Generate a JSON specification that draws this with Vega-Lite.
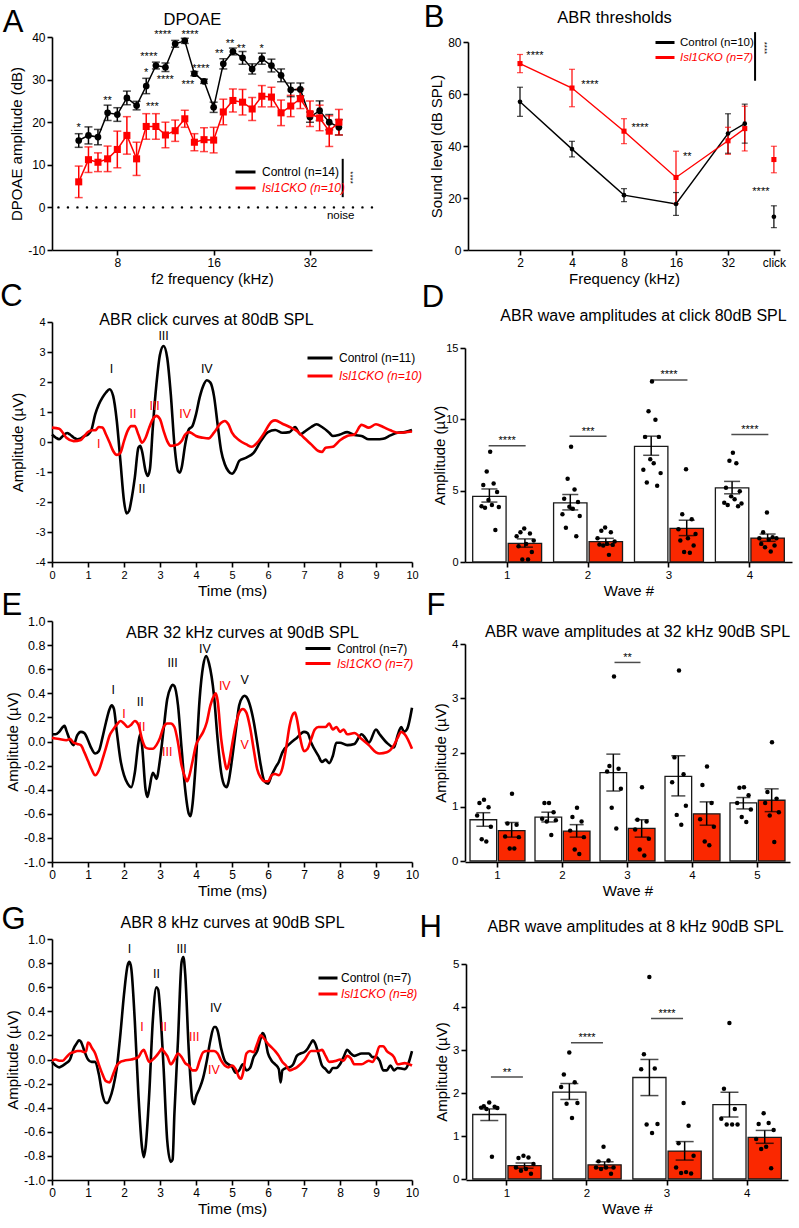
{
"$schema": "https://vega.github.io/schema/vega-lite/v6.json",
"background": "white",
"padding": {"left": 0, "top": 2, "right": 5, "bottom": 5},
"config": {
 "font": "Liberation Sans",
 "view": {"stroke": null},
 "axis": {"grid": false, "domainColor": "#000", "domainWidth": 1.6, "tickColor": "#000", "tickWidth": 1.6, "tickSize": 5, "labelColor": "#000", "titleColor": "#000", "labelFontSize": 12, "titleFontSize": 15, "titleFontWeight": "normal", "labelPadding": 2, "titlePadding": 3, "labelOverlap": false, "labelFlush": false},
 "axisY": {"labelOverlap": false},
 "axisLeft": {"labelOverlap": false},
 "title": {"fontSize": 31, "fontWeight": "normal", "anchor": "start", "frame": "bounds", "color": "#000", "baseline": "alphabetic"},
 "legend": {"title": null, "symbolType": "stroke", "symbolStrokeWidth": 3, "labelFontSize": 12, "padding": 0, "rowPadding": 0, "labelOffset": 5}
},
"datasets": {
 "dpoae": [
  {"f":6.06,"g":"Control","m":15.7,"lo":14.1,"hi":17.3},{"f":6.5,"g":"Control","m":16.9,"lo":14.9,"hi":18.9},{"f":6.96,"g":"Control","m":16.5,"lo":14.7,"hi":18.3},{"f":7.46,"g":"Control","m":22.2,"lo":20.4,"hi":24.0},{"f":8.0,"g":"Control","m":21.8,"lo":20.2,"hi":23.4},{"f":8.57,"g":"Control","m":25.7,"lo":24.1,"hi":27.3},{"f":9.19,"g":"Control","m":23.9,"lo":22.9,"hi":24.9},{"f":9.85,"g":"Control","m":28.5,"lo":26.7,"hi":30.3},{"f":10.56,"g":"Control","m":33.3,"lo":32.5,"hi":34.1},{"f":11.31,"g":"Control","m":32.9,"lo":31.9,"hi":33.9},{"f":12.13,"g":"Control","m":38.4,"lo":37.6,"hi":39.2},{"f":13.0,"g":"Control","m":39.1,"lo":38.5,"hi":39.7},{"f":13.93,"g":"Control","m":31.4,"lo":30.9,"hi":31.9},{"f":14.93,"g":"Control","m":29.6,"lo":29.1,"hi":30.1},{"f":16.0,"g":"Control","m":23.5,"lo":22.3,"hi":24.7},{"f":17.15,"g":"Control","m":33.7,"lo":32.5,"hi":34.9},{"f":18.38,"g":"Control","m":36.6,"lo":35.8,"hi":37.4},{"f":19.7,"g":"Control","m":35.1,"lo":33.6,"hi":36.6},{"f":21.11,"g":"Control","m":32.5,"lo":31.3,"hi":33.7},{"f":22.63,"g":"Control","m":34.9,"lo":33.6,"hi":36.2},{"f":24.25,"g":"Control","m":33.3,"lo":31.8,"hi":34.8},{"f":25.99,"g":"Control","m":31.0,"lo":29.5,"hi":32.5},{"f":27.86,"g":"Control","m":27.6,"lo":26.0,"hi":29.2},{"f":29.86,"g":"Control","m":27.7,"lo":26.2,"hi":29.2},{"f":32.0,"g":"Control","m":21.2,"lo":20.0,"hi":22.4},{"f":34.3,"g":"Control","m":22.7,"lo":20.4,"hi":25.0},{"f":36.76,"g":"Control","m":20.0,"lo":18.2,"hi":21.8},{"f":39.4,"g":"Control","m":18.8,"lo":17.0,"hi":20.6},
  {"f":6.06,"g":"Isl1CKO","m":6.0,"lo":2.3,"hi":9.7},{"f":6.5,"g":"Isl1CKO","m":11.2,"lo":8.2,"hi":14.2},{"f":6.96,"g":"Isl1CKO","m":10.6,"lo":8.4,"hi":12.8},{"f":7.46,"g":"Isl1CKO","m":11.4,"lo":8.4,"hi":14.4},{"f":8.0,"g":"Isl1CKO","m":13.6,"lo":9.3,"hi":17.9},{"f":8.57,"g":"Isl1CKO","m":16.9,"lo":12.5,"hi":21.3},{"f":9.19,"g":"Isl1CKO","m":11.4,"lo":7.5,"hi":15.3},{"f":9.85,"g":"Isl1CKO","m":19.0,"lo":16.0,"hi":22.0},{"f":10.56,"g":"Isl1CKO","m":19.0,"lo":16.0,"hi":22.0},{"f":11.31,"g":"Isl1CKO","m":17.0,"lo":14.0,"hi":20.0},{"f":12.13,"g":"Isl1CKO","m":18.0,"lo":15.5,"hi":20.5},{"f":13.0,"g":"Isl1CKO","m":20.8,"lo":18.8,"hi":22.8},{"f":13.93,"g":"Isl1CKO","m":15.3,"lo":13.3,"hi":17.3},{"f":14.93,"g":"Isl1CKO","m":15.9,"lo":13.1,"hi":18.7},{"f":16.0,"g":"Isl1CKO","m":15.8,"lo":12.8,"hi":18.8},{"f":17.15,"g":"Isl1CKO","m":22.4,"lo":19.4,"hi":25.4},{"f":18.38,"g":"Isl1CKO","m":25.1,"lo":22.4,"hi":27.8},{"f":19.7,"g":"Isl1CKO","m":24.7,"lo":21.7,"hi":27.7},{"f":21.11,"g":"Isl1CKO","m":23.1,"lo":20.4,"hi":25.8},{"f":22.63,"g":"Isl1CKO","m":26.1,"lo":23.6,"hi":28.6},{"f":24.25,"g":"Isl1CKO","m":25.9,"lo":23.6,"hi":28.2},{"f":25.99,"g":"Isl1CKO","m":22.2,"lo":19.2,"hi":25.2},{"f":27.86,"g":"Isl1CKO","m":23.8,"lo":21.3,"hi":26.3},{"f":29.86,"g":"Isl1CKO","m":25.5,"lo":23.2,"hi":27.8},{"f":32.0,"g":"Isl1CKO","m":22.0,"lo":19.0,"hi":25.0},{"f":34.3,"g":"Isl1CKO","m":21.0,"lo":18.0,"hi":24.0},{"f":36.76,"g":"Isl1CKO","m":17.9,"lo":14.3,"hi":21.5},{"f":39.4,"g":"Isl1CKO","m":20.0,"lo":17.0,"hi":23.0}
 ],
 "aStars": [
  {"f":6.06,"y":19.4,"s":"*"},{"f":7.46,"y":25.6,"s":"**"},{"f":9.85,"y":32.2,"s":"*"},{"f":10.04,"y":35.9,"s":"****"},{"f":10.3,"y":24.3,"s":"***"},{"f":11.1,"y":41.2,"s":"****"},{"f":11.3,"y":30.6,"s":"****"},{"f":13.5,"y":41.2,"s":"****"},{"f":14.6,"y":33.3,"s":"****"},{"f":13.3,"y":29.4,"s":"***"},{"f":16.65,"y":36.6,"s":"**"},{"f":18.0,"y":39.0,"s":"**"},{"f":19.5,"y":37.8,"s":"**"},{"f":22.6,"y":38.0,"s":"*"}
 ],
 "abr": [
  {"f":2,"g":"Control","m":57.0,"lo":51.4,"hi":62.6},{"f":4,"g":"Control","m":38.8,"lo":35.8,"hi":41.8},{"f":8,"g":"Control","m":21.1,"lo":18.6,"hi":23.6},{"f":16,"g":"Control","m":17.7,"lo":13.3,"hi":22.1},{"f":32,"g":"Control","m":44.8,"lo":37.2,"hi":52.4},{"f":40,"g":"Control","m":48.6,"lo":41.1,"hi":56.1},{"f":59,"g":"Control","m":12.8,"lo":8.6,"hi":17.0},
  {"f":2,"g":"Isl1CKO","m":71.7,"lo":68.2,"hi":75.2},{"f":4,"g":"Isl1CKO","m":62.3,"lo":55.1,"hi":69.5},{"f":8,"g":"Isl1CKO","m":45.7,"lo":40.9,"hi":50.5},{"f":16,"g":"Isl1CKO","m":27.9,"lo":17.8,"hi":38.0},{"f":32,"g":"Isl1CKO","m":42.0,"lo":36.8,"hi":47.2},{"f":40,"g":"Isl1CKO","m":46.7,"lo":38.1,"hi":55.3},{"f":59,"g":"Isl1CKO","m":34.8,"lo":29.7,"hi":39.9}
 ],
 "bStars": [
  {"f":2.44,"y":75.8,"s":"****"},{"f":5.08,"y":64.7,"s":"****"},{"f":9.9,"y":48.2,"s":"****"},{"f":18.6,"y":37.1,"s":"**"},{"f":49.6,"y":23.3,"s":"****"}
 ],
 "cCurve": [
  {"t":0,"g":"Control","a":0.25},{"t":0.1,"g":"Control","a":0.15},{"t":0.2,"g":"Control","a":0.09},{"t":0.3,"g":"Control","a":0.2},{"t":0.42,"g":"Control","a":0.3},{"t":0.5,"g":"Control","a":0.25},{"t":0.6,"g":"Control","a":0.15},{"t":0.7,"g":"Control","a":0.09},{"t":0.8,"g":"Control","a":0.12},{"t":0.9,"g":"Control","a":0.2},{"t":1.0,"g":"Control","a":0.25},{"t":1.1,"g":"Control","a":0.42},{"t":1.2,"g":"Control","a":0.92},{"t":1.3,"g":"Control","a":1.25},{"t":1.4,"g":"Control","a":1.48},{"t":1.5,"g":"Control","a":1.65},{"t":1.6,"g":"Control","a":1.76},{"t":1.7,"g":"Control","a":1.53},{"t":1.8,"g":"Control","a":0.7},{"t":1.9,"g":"Control","a":-0.63},{"t":2.0,"g":"Control","a":-1.97},{"t":2.07,"g":"Control","a":-2.38},{"t":2.14,"g":"Control","a":-2.3},{"t":2.2,"g":"Control","a":-1.97},{"t":2.3,"g":"Control","a":-1.19},{"t":2.4,"g":"Control","a":-0.19},{"t":2.45,"g":"Control","a":-0.13},{"t":2.5,"g":"Control","a":-0.3},{"t":2.6,"g":"Control","a":-0.97},{"t":2.66,"g":"Control","a":-1.13},{"t":2.72,"g":"Control","a":-0.9},{"t":2.8,"g":"Control","a":0.48},{"t":2.9,"g":"Control","a":1.92},{"t":3.0,"g":"Control","a":2.92},{"t":3.1,"g":"Control","a":3.2},{"t":3.2,"g":"Control","a":2.81},{"t":3.3,"g":"Control","a":1.59},{"t":3.4,"g":"Control","a":-0.08},{"t":3.5,"g":"Control","a":-0.97},{"t":3.55,"g":"Control","a":-1.02},{"t":3.6,"g":"Control","a":-0.86},{"t":3.7,"g":"Control","a":-0.08},{"t":3.8,"g":"Control","a":0.42},{"t":3.9,"g":"Control","a":0.53},{"t":4.0,"g":"Control","a":0.92},{"t":4.1,"g":"Control","a":1.48},{"t":4.2,"g":"Control","a":1.87},{"t":4.3,"g":"Control","a":2.06},{"t":4.4,"g":"Control","a":1.98},{"t":4.5,"g":"Control","a":1.53},{"t":4.6,"g":"Control","a":0.59},{"t":4.7,"g":"Control","a":-0.3},{"t":4.8,"g":"Control","a":-0.74},{"t":4.9,"g":"Control","a":-0.97},{"t":5.0,"g":"Control","a":-1.06},{"t":5.1,"g":"Control","a":-0.91},{"t":5.2,"g":"Control","a":-0.63},{"t":5.4,"g":"Control","a":-0.52},{"t":5.6,"g":"Control","a":-0.36},{"t":5.8,"g":"Control","a":0.03},{"t":6.0,"g":"Control","a":0.33},{"t":6.2,"g":"Control","a":0.4},{"t":6.4,"g":"Control","a":0.31},{"t":6.6,"g":"Control","a":0.33},{"t":6.75,"g":"Control","a":0.5},{"t":6.9,"g":"Control","a":0.25},{"t":7.0,"g":"Control","a":0.33},{"t":7.2,"g":"Control","a":0.5},{"t":7.35,"g":"Control","a":0.59},{"t":7.5,"g":"Control","a":0.5},{"t":7.7,"g":"Control","a":0.31},{"t":7.8,"g":"Control","a":0.2},{"t":8.0,"g":"Control","a":0.25},{"t":8.2,"g":"Control","a":0.33},{"t":8.4,"g":"Control","a":0.23},{"t":8.6,"g":"Control","a":0.2},{"t":8.8,"g":"Control","a":0.09},{"t":9.0,"g":"Control","a":0.09},{"t":9.2,"g":"Control","a":0.11},{"t":9.4,"g":"Control","a":0.22},{"t":9.6,"g":"Control","a":0.31},{"t":9.8,"g":"Control","a":0.33},{"t":10,"g":"Control","a":0.4},
  {"t":0,"g":"Isl1CKO","a":0.48},{"t":0.2,"g":"Isl1CKO","a":0.44},{"t":0.3,"g":"Isl1CKO","a":0.31},{"t":0.4,"g":"Isl1CKO","a":0.14},{"t":0.6,"g":"Isl1CKO","a":0.03},{"t":0.8,"g":"Isl1CKO","a":0.07},{"t":0.9,"g":"Isl1CKO","a":0.2},{"t":1.0,"g":"Isl1CKO","a":0.33},{"t":1.1,"g":"Isl1CKO","a":0.39},{"t":1.2,"g":"Isl1CKO","a":0.39},{"t":1.3,"g":"Isl1CKO","a":0.5},{"t":1.4,"g":"Isl1CKO","a":0.48},{"t":1.5,"g":"Isl1CKO","a":0.25},{"t":1.6,"g":"Isl1CKO","a":-0.02},{"t":1.7,"g":"Isl1CKO","a":-0.3},{"t":1.8,"g":"Isl1CKO","a":-0.43},{"t":1.9,"g":"Isl1CKO","a":-0.36},{"t":2.0,"g":"Isl1CKO","a":0.03},{"t":2.1,"g":"Isl1CKO","a":0.37},{"t":2.2,"g":"Isl1CKO","a":0.53},{"t":2.3,"g":"Isl1CKO","a":0.53},{"t":2.4,"g":"Isl1CKO","a":0.25},{"t":2.5,"g":"Isl1CKO","a":-0.02},{"t":2.6,"g":"Isl1CKO","a":0.14},{"t":2.7,"g":"Isl1CKO","a":0.48},{"t":2.8,"g":"Isl1CKO","a":0.76},{"t":2.9,"g":"Isl1CKO","a":0.87},{"t":3.0,"g":"Isl1CKO","a":0.76},{"t":3.1,"g":"Isl1CKO","a":0.37},{"t":3.2,"g":"Isl1CKO","a":0.03},{"t":3.3,"g":"Isl1CKO","a":-0.13},{"t":3.5,"g":"Isl1CKO","a":-0.08},{"t":3.6,"g":"Isl1CKO","a":0.03},{"t":3.7,"g":"Isl1CKO","a":0.25},{"t":3.8,"g":"Isl1CKO","a":0.33},{"t":3.9,"g":"Isl1CKO","a":0.28},{"t":4.0,"g":"Isl1CKO","a":0.2},{"t":4.2,"g":"Isl1CKO","a":0.14},{"t":4.35,"g":"Isl1CKO","a":0.12},{"t":4.5,"g":"Isl1CKO","a":0.31},{"t":4.7,"g":"Isl1CKO","a":0.64},{"t":4.8,"g":"Isl1CKO","a":0.7},{"t":4.9,"g":"Isl1CKO","a":0.59},{"t":5.0,"g":"Isl1CKO","a":0.31},{"t":5.2,"g":"Isl1CKO","a":0.06},{"t":5.4,"g":"Isl1CKO","a":-0.08},{"t":5.55,"g":"Isl1CKO","a":-0.16},{"t":5.7,"g":"Isl1CKO","a":-0.02},{"t":5.9,"g":"Isl1CKO","a":0.31},{"t":6.1,"g":"Isl1CKO","a":0.68},{"t":6.2,"g":"Isl1CKO","a":0.72},{"t":6.4,"g":"Isl1CKO","a":0.61},{"t":6.6,"g":"Isl1CKO","a":0.5},{"t":6.8,"g":"Isl1CKO","a":0.37},{"t":7.0,"g":"Isl1CKO","a":0.14},{"t":7.2,"g":"Isl1CKO","a":-0.08},{"t":7.4,"g":"Isl1CKO","a":-0.3},{"t":7.5,"g":"Isl1CKO","a":-0.33},{"t":7.6,"g":"Isl1CKO","a":-0.19},{"t":7.8,"g":"Isl1CKO","a":-0.16},{"t":8.0,"g":"Isl1CKO","a":0.06},{"t":8.2,"g":"Isl1CKO","a":0.2},{"t":8.4,"g":"Isl1CKO","a":0.25},{"t":8.6,"g":"Isl1CKO","a":0.57},{"t":8.8,"g":"Isl1CKO","a":0.48},{"t":9.0,"g":"Isl1CKO","a":0.59},{"t":9.2,"g":"Isl1CKO","a":0.5},{"t":9.4,"g":"Isl1CKO","a":0.39},{"t":9.6,"g":"Isl1CKO","a":0.31},{"t":10,"g":"Isl1CKO","a":0.35}
 ],
 "cLab": [
  {"t":1.65,"a":2.42,"g":"Control","l":"I"},{"t":2.5,"a":-1.56,"g":"Control","l":"II"},{"t":3.1,"a":3.55,"g":"Control","l":"III"},{"t":4.3,"a":2.44,"g":"Control","l":"IV"},
  {"t":1.3,"a":-0.06,"g":"Isl1CKO","l":"I"},{"t":2.25,"a":0.92,"g":"Isl1CKO","l":"II"},{"t":2.85,"a":1.2,"g":"Isl1CKO","l":"III"},{"t":3.7,"a":0.92,"g":"Isl1CKO","l":"IV"}
 ],
 "eCurve": [
  {"t":0,"g":"Control","a":0.06},{"t":0.1,"g":"Control","a":0.06},{"t":0.2,"g":"Control","a":0.08},{"t":0.3,"g":"Control","a":0.12},{"t":0.35,"g":"Control","a":0.13},{"t":0.4,"g":"Control","a":0.09},{"t":0.5,"g":"Control","a":0.01},{"t":0.6,"g":"Control","a":-0.03},{"t":0.7,"g":"Control","a":0.05},{"t":0.8,"g":"Control","a":0.08},{"t":0.9,"g":"Control","a":0.07},{"t":1.0,"g":"Control","a":0.01},{"t":1.1,"g":"Control","a":-0.06},{"t":1.2,"g":"Control","a":-0.1},{"t":1.3,"g":"Control","a":-0.08},{"t":1.4,"g":"Control","a":0.03},{"t":1.5,"g":"Control","a":0.16},{"t":1.6,"g":"Control","a":0.27},{"t":1.66,"g":"Control","a":0.3},{"t":1.72,"g":"Control","a":0.27},{"t":1.8,"g":"Control","a":0.08},{"t":1.9,"g":"Control","a":-0.15},{"t":2.0,"g":"Control","a":-0.28},{"t":2.1,"g":"Control","a":-0.35},{"t":2.2,"g":"Control","a":-0.38},{"t":2.3,"g":"Control","a":-0.26},{"t":2.4,"g":"Control","a":-0.01},{"t":2.45,"g":"Control","a":0.06},{"t":2.5,"g":"Control","a":-0.03},{"t":2.6,"g":"Control","a":-0.4},{"t":2.65,"g":"Control","a":-0.46},{"t":2.7,"g":"Control","a":-0.4},{"t":2.8,"g":"Control","a":-0.26},{"t":2.85,"g":"Control","a":-0.28},{"t":2.9,"g":"Control","a":-0.31},{"t":3.0,"g":"Control","a":-0.15},{"t":3.1,"g":"Control","a":0.1},{"t":3.2,"g":"Control","a":0.35},{"t":3.3,"g":"Control","a":0.45},{"t":3.35,"g":"Control","a":0.47},{"t":3.4,"g":"Control","a":0.46},{"t":3.5,"g":"Control","a":0.3},{"t":3.6,"g":"Control","a":-0.06},{"t":3.7,"g":"Control","a":-0.4},{"t":3.8,"g":"Control","a":-0.6},{"t":3.85,"g":"Control","a":-0.62},{"t":3.9,"g":"Control","a":-0.53},{"t":4.0,"g":"Control","a":-0.15},{"t":4.1,"g":"Control","a":0.35},{"t":4.2,"g":"Control","a":0.63},{"t":4.28,"g":"Control","a":0.71},{"t":4.36,"g":"Control","a":0.65},{"t":4.5,"g":"Control","a":0.38},{"t":4.6,"g":"Control","a":0.02},{"t":4.7,"g":"Control","a":-0.26},{"t":4.8,"g":"Control","a":-0.37},{"t":4.85,"g":"Control","a":-0.38},{"t":4.9,"g":"Control","a":-0.34},{"t":5.0,"g":"Control","a":-0.15},{"t":5.1,"g":"Control","a":0.08},{"t":5.2,"g":"Control","a":0.3},{"t":5.3,"g":"Control","a":0.37},{"t":5.35,"g":"Control","a":0.38},{"t":5.4,"g":"Control","a":0.37},{"t":5.5,"g":"Control","a":0.3},{"t":5.6,"g":"Control","a":0.17},{"t":5.7,"g":"Control","a":-0.01},{"t":5.8,"g":"Control","a":-0.2},{"t":5.9,"g":"Control","a":-0.33},{"t":6.0,"g":"Control","a":-0.35},{"t":6.1,"g":"Control","a":-0.28},{"t":6.2,"g":"Control","a":-0.22},{"t":6.3,"g":"Control","a":-0.17},{"t":6.4,"g":"Control","a":-0.09},{"t":6.6,"g":"Control","a":-0.02},{"t":6.8,"g":"Control","a":0.03},{"t":7.0,"g":"Control","a":0.08},{"t":7.1,"g":"Control","a":0.07},{"t":7.2,"g":"Control","a":-0.01},{"t":7.4,"g":"Control","a":-0.12},{"t":7.5,"g":"Control","a":-0.17},{"t":7.6,"g":"Control","a":-0.15},{"t":7.7,"g":"Control","a":-0.18},{"t":7.8,"g":"Control","a":-0.12},{"t":7.9,"g":"Control","a":-0.01},{"t":8.0,"g":"Control","a":-0.01},{"t":8.2,"g":"Control","a":-0.03},{"t":8.4,"g":"Control","a":-0.02},{"t":8.6,"g":"Control","a":0.06},{"t":8.7,"g":"Control","a":0.03},{"t":8.8,"g":"Control","a":-0.01},{"t":9.0,"g":"Control","a":0.1},{"t":9.1,"g":"Control","a":0.06},{"t":9.3,"g":"Control","a":-0.01},{"t":9.5,"g":"Control","a":-0.05},{"t":9.6,"g":"Control","a":0.05},{"t":9.7,"g":"Control","a":0.12},{"t":9.78,"g":"Control","a":0.08},{"t":9.86,"g":"Control","a":0.1},{"t":10,"g":"Control","a":0.28},
  {"t":0,"g":"Isl1CKO","a":0.03},{"t":0.2,"g":"Isl1CKO","a":0.02},{"t":0.4,"g":"Isl1CKO","a":0.01},{"t":0.5,"g":"Isl1CKO","a":0.02},{"t":0.6,"g":"Isl1CKO","a":-0.01},{"t":0.7,"g":"Isl1CKO","a":-0.02},{"t":0.8,"g":"Isl1CKO","a":-0.03},{"t":0.9,"g":"Isl1CKO","a":-0.09},{"t":1.0,"g":"Isl1CKO","a":-0.16},{"t":1.1,"g":"Isl1CKO","a":-0.23},{"t":1.2,"g":"Isl1CKO","a":-0.28},{"t":1.3,"g":"Isl1CKO","a":-0.24},{"t":1.4,"g":"Isl1CKO","a":-0.15},{"t":1.5,"g":"Isl1CKO","a":-0.05},{"t":1.6,"g":"Isl1CKO","a":0.05},{"t":1.7,"g":"Isl1CKO","a":0.1},{"t":1.8,"g":"Isl1CKO","a":0.14},{"t":1.9,"g":"Isl1CKO","a":0.17},{"t":2.0,"g":"Isl1CKO","a":0.15},{"t":2.1,"g":"Isl1CKO","a":0.12},{"t":2.2,"g":"Isl1CKO","a":0.14},{"t":2.3,"g":"Isl1CKO","a":0.17},{"t":2.4,"g":"Isl1CKO","a":0.14},{"t":2.5,"g":"Isl1CKO","a":0.02},{"t":2.6,"g":"Isl1CKO","a":-0.05},{"t":2.7,"g":"Isl1CKO","a":-0.06},{"t":2.8,"g":"Isl1CKO","a":-0.06},{"t":2.9,"g":"Isl1CKO","a":-0.03},{"t":3.0,"g":"Isl1CKO","a":0.03},{"t":3.1,"g":"Isl1CKO","a":0.12},{"t":3.2,"g":"Isl1CKO","a":0.15},{"t":3.3,"g":"Isl1CKO","a":0.15},{"t":3.4,"g":"Isl1CKO","a":0.12},{"t":3.5,"g":"Isl1CKO","a":-0.01},{"t":3.6,"g":"Isl1CKO","a":-0.2},{"t":3.7,"g":"Isl1CKO","a":-0.3},{"t":3.75,"g":"Isl1CKO","a":-0.33},{"t":3.8,"g":"Isl1CKO","a":-0.3},{"t":3.9,"g":"Isl1CKO","a":-0.17},{"t":4.0,"g":"Isl1CKO","a":-0.03},{"t":4.1,"g":"Isl1CKO","a":0.03},{"t":4.2,"g":"Isl1CKO","a":0.08},{"t":4.3,"g":"Isl1CKO","a":0.16},{"t":4.4,"g":"Isl1CKO","a":0.3},{"t":4.5,"g":"Isl1CKO","a":0.38},{"t":4.55,"g":"Isl1CKO","a":0.4},{"t":4.6,"g":"Isl1CKO","a":0.34},{"t":4.7,"g":"Isl1CKO","a":0.02},{"t":4.8,"g":"Isl1CKO","a":-0.17},{"t":4.85,"g":"Isl1CKO","a":-0.23},{"t":4.9,"g":"Isl1CKO","a":-0.2},{"t":5.0,"g":"Isl1CKO","a":-0.03},{"t":5.1,"g":"Isl1CKO","a":0.13},{"t":5.2,"g":"Isl1CKO","a":0.24},{"t":5.3,"g":"Isl1CKO","a":0.27},{"t":5.4,"g":"Isl1CKO","a":0.24},{"t":5.5,"g":"Isl1CKO","a":0.12},{"t":5.6,"g":"Isl1CKO","a":-0.06},{"t":5.7,"g":"Isl1CKO","a":-0.23},{"t":5.8,"g":"Isl1CKO","a":-0.3},{"t":5.9,"g":"Isl1CKO","a":-0.33},{"t":6.0,"g":"Isl1CKO","a":-0.33},{"t":6.1,"g":"Isl1CKO","a":-0.28},{"t":6.2,"g":"Isl1CKO","a":-0.27},{"t":6.3,"g":"Isl1CKO","a":-0.28},{"t":6.4,"g":"Isl1CKO","a":-0.22},{"t":6.5,"g":"Isl1CKO","a":-0.06},{"t":6.6,"g":"Isl1CKO","a":0.13},{"t":6.7,"g":"Isl1CKO","a":0.23},{"t":6.75,"g":"Isl1CKO","a":0.24},{"t":6.8,"g":"Isl1CKO","a":0.19},{"t":6.9,"g":"Isl1CKO","a":0.02},{"t":7.0,"g":"Isl1CKO","a":-0.08},{"t":7.1,"g":"Isl1CKO","a":-0.06},{"t":7.2,"g":"Isl1CKO","a":0.02},{"t":7.3,"g":"Isl1CKO","a":0.1},{"t":7.4,"g":"Isl1CKO","a":0.12},{"t":7.6,"g":"Isl1CKO","a":0.12},{"t":7.7,"g":"Isl1CKO","a":0.15},{"t":7.8,"g":"Isl1CKO","a":0.1},{"t":7.9,"g":"Isl1CKO","a":0.12},{"t":8.0,"g":"Isl1CKO","a":0.08},{"t":8.1,"g":"Isl1CKO","a":0.1},{"t":8.2,"g":"Isl1CKO","a":0.06},{"t":8.4,"g":"Isl1CKO","a":0.07},{"t":8.6,"g":"Isl1CKO","a":0.02},{"t":8.8,"g":"Isl1CKO","a":-0.03},{"t":9.0,"g":"Isl1CKO","a":-0.09},{"t":9.1,"g":"Isl1CKO","a":-0.1},{"t":9.3,"g":"Isl1CKO","a":-0.09},{"t":9.5,"g":"Isl1CKO","a":-0.03},{"t":9.6,"g":"Isl1CKO","a":0.03},{"t":9.7,"g":"Isl1CKO","a":0.08},{"t":9.8,"g":"Isl1CKO","a":0.06},{"t":10,"g":"Isl1CKO","a":-0.06}
 ],
 "eLab": [
  {"t":1.7,"a":0.43,"g":"Control","l":"I"},{"t":2.45,"a":0.33,"g":"Control","l":"II"},{"t":3.35,"a":0.65,"g":"Control","l":"III"},{"t":4.25,"a":0.77,"g":"Control","l":"IV"},{"t":5.35,"a":0.51,"g":"Control","l":"V"},
  {"t":2.0,"a":0.23,"g":"Isl1CKO","l":"I"},{"t":2.5,"a":0.12,"g":"Isl1CKO","l":"II"},{"t":3.2,"a":-0.09,"g":"Isl1CKO","l":"III"},{"t":4.8,"a":0.46,"g":"Isl1CKO","l":"IV"},{"t":5.35,"a":-0.03,"g":"Isl1CKO","l":"V"}
 ],
 "gCurve": [
  {"t":0,"g":"Control","a":-0.02},{"t":0.1,"g":"Control","a":-0.05},{"t":0.2,"g":"Control","a":-0.065},{"t":0.3,"g":"Control","a":-0.05},{"t":0.4,"g":"Control","a":-0.03},{"t":0.5,"g":"Control","a":0.0},{"t":0.6,"g":"Control","a":0.09},{"t":0.7,"g":"Control","a":0.14},{"t":0.75,"g":"Control","a":0.16},{"t":0.8,"g":"Control","a":0.15},{"t":0.9,"g":"Control","a":0.07},{"t":1.0,"g":"Control","a":0.0},{"t":1.1,"g":"Control","a":-0.02},{"t":1.2,"g":"Control","a":-0.02},{"t":1.3,"g":"Control","a":-0.12},{"t":1.4,"g":"Control","a":-0.29},{"t":1.5,"g":"Control","a":-0.36},{"t":1.55,"g":"Control","a":-0.36},{"t":1.6,"g":"Control","a":-0.33},{"t":1.7,"g":"Control","a":-0.23},{"t":1.8,"g":"Control","a":-0.07},{"t":1.9,"g":"Control","a":0.21},{"t":2.0,"g":"Control","a":0.54},{"t":2.1,"g":"Control","a":0.78},{"t":2.15,"g":"Control","a":0.81},{"t":2.2,"g":"Control","a":0.76},{"t":2.3,"g":"Control","a":0.32},{"t":2.4,"g":"Control","a":-0.29},{"t":2.5,"g":"Control","a":-0.73},{"t":2.55,"g":"Control","a":-0.81},{"t":2.6,"g":"Control","a":-0.73},{"t":2.7,"g":"Control","a":-0.29},{"t":2.8,"g":"Control","a":0.32},{"t":2.9,"g":"Control","a":0.6},{"t":2.95,"g":"Control","a":0.58},{"t":3.0,"g":"Control","a":0.43},{"t":3.1,"g":"Control","a":-0.07},{"t":3.2,"g":"Control","a":-0.67},{"t":3.3,"g":"Control","a":-0.85},{"t":3.35,"g":"Control","a":-0.83},{"t":3.4,"g":"Control","a":-0.45},{"t":3.5,"g":"Control","a":0.16},{"t":3.6,"g":"Control","a":0.81},{"t":3.65,"g":"Control","a":0.85},{"t":3.7,"g":"Control","a":0.71},{"t":3.8,"g":"Control","a":0.07},{"t":3.9,"g":"Control","a":-0.34},{"t":3.95,"g":"Control","a":-0.37},{"t":4.0,"g":"Control","a":-0.31},{"t":4.1,"g":"Control","a":-0.24},{"t":4.2,"g":"Control","a":-0.15},{"t":4.3,"g":"Control","a":-0.01},{"t":4.4,"g":"Control","a":0.16},{"t":4.5,"g":"Control","a":0.27},{"t":4.55,"g":"Control","a":0.27},{"t":4.6,"g":"Control","a":0.24},{"t":4.7,"g":"Control","a":0.09},{"t":4.8,"g":"Control","a":-0.01},{"t":4.9,"g":"Control","a":-0.04},{"t":5.0,"g":"Control","a":-0.06},{"t":5.1,"g":"Control","a":-0.11},{"t":5.2,"g":"Control","a":-0.09},{"t":5.3,"g":"Control","a":-0.04},{"t":5.4,"g":"Control","a":-0.09},{"t":5.5,"g":"Control","a":-0.07},{"t":5.6,"g":"Control","a":0.02},{"t":5.7,"g":"Control","a":0.07},{"t":5.8,"g":"Control","a":0.18},{"t":5.85,"g":"Control","a":0.22},{"t":5.9,"g":"Control","a":0.2},{"t":6.0,"g":"Control","a":0.05},{"t":6.1,"g":"Control","a":-0.01},{"t":6.2,"g":"Control","a":-0.04},{"t":6.3,"g":"Control","a":-0.08},{"t":6.35,"g":"Control","a":-0.19},{"t":6.4,"g":"Control","a":-0.09},{"t":6.5,"g":"Control","a":-0.07},{"t":6.6,"g":"Control","a":-0.065},{"t":6.7,"g":"Control","a":-0.04},{"t":6.8,"g":"Control","a":0.03},{"t":6.9,"g":"Control","a":0.05},{"t":7.0,"g":"Control","a":0.06},{"t":7.1,"g":"Control","a":0.09},{"t":7.2,"g":"Control","a":0.14},{"t":7.25,"g":"Control","a":0.16},{"t":7.3,"g":"Control","a":0.14},{"t":7.4,"g":"Control","a":0.05},{"t":7.5,"g":"Control","a":-0.05},{"t":7.6,"g":"Control","a":-0.08},{"t":7.7,"g":"Control","a":-0.11},{"t":7.8,"g":"Control","a":-0.07},{"t":7.9,"g":"Control","a":-0.07},{"t":8.0,"g":"Control","a":-0.04},{"t":8.1,"g":"Control","a":0.02},{"t":8.2,"g":"Control","a":0.08},{"t":8.3,"g":"Control","a":0.05},{"t":8.4,"g":"Control","a":0.03},{"t":8.6,"g":"Control","a":0.05},{"t":8.8,"g":"Control","a":0.05},{"t":8.9,"g":"Control","a":0.02},{"t":9.0,"g":"Control","a":0.02},{"t":9.1,"g":"Control","a":-0.01},{"t":9.2,"g":"Control","a":-0.09},{"t":9.3,"g":"Control","a":-0.09},{"t":9.4,"g":"Control","a":-0.05},{"t":9.5,"g":"Control","a":-0.09},{"t":9.6,"g":"Control","a":-0.07},{"t":9.8,"g":"Control","a":-0.08},{"t":10,"g":"Control","a":0.07},
  {"t":0,"g":"Isl1CKO","a":-0.01},{"t":0.1,"g":"Isl1CKO","a":0.0},{"t":0.2,"g":"Isl1CKO","a":-0.01},{"t":0.3,"g":"Isl1CKO","a":-0.01},{"t":0.4,"g":"Isl1CKO","a":0.02},{"t":0.5,"g":"Isl1CKO","a":0.05},{"t":0.6,"g":"Isl1CKO","a":0.06},{"t":0.7,"g":"Isl1CKO","a":0.07},{"t":0.8,"g":"Isl1CKO","a":0.07},{"t":0.9,"g":"Isl1CKO","a":0.06},{"t":0.95,"g":"Isl1CKO","a":0.07},{"t":1.0,"g":"Isl1CKO","a":0.14},{"t":1.05,"g":"Isl1CKO","a":0.13},{"t":1.1,"g":"Isl1CKO","a":0.1},{"t":1.2,"g":"Isl1CKO","a":0.05},{"t":1.3,"g":"Isl1CKO","a":-0.04},{"t":1.4,"g":"Isl1CKO","a":-0.12},{"t":1.5,"g":"Isl1CKO","a":-0.18},{"t":1.6,"g":"Isl1CKO","a":-0.19},{"t":1.7,"g":"Isl1CKO","a":-0.12},{"t":1.8,"g":"Isl1CKO","a":-0.05},{"t":1.9,"g":"Isl1CKO","a":-0.02},{"t":2.0,"g":"Isl1CKO","a":-0.01},{"t":2.2,"g":"Isl1CKO","a":0.0},{"t":2.4,"g":"Isl1CKO","a":0.02},{"t":2.5,"g":"Isl1CKO","a":0.07},{"t":2.55,"g":"Isl1CKO","a":0.08},{"t":2.6,"g":"Isl1CKO","a":0.05},{"t":2.7,"g":"Isl1CKO","a":-0.02},{"t":2.8,"g":"Isl1CKO","a":0.0},{"t":2.9,"g":"Isl1CKO","a":0.03},{"t":3.0,"g":"Isl1CKO","a":0.07},{"t":3.05,"g":"Isl1CKO","a":0.09},{"t":3.1,"g":"Isl1CKO","a":0.07},{"t":3.2,"g":"Isl1CKO","a":0.03},{"t":3.3,"g":"Isl1CKO","a":-0.04},{"t":3.4,"g":"Isl1CKO","a":0.0},{"t":3.5,"g":"Isl1CKO","a":0.05},{"t":3.6,"g":"Isl1CKO","a":0.02},{"t":3.7,"g":"Isl1CKO","a":-0.03},{"t":3.8,"g":"Isl1CKO","a":-0.05},{"t":3.9,"g":"Isl1CKO","a":-0.09},{"t":4.0,"g":"Isl1CKO","a":-0.09},{"t":4.1,"g":"Isl1CKO","a":-0.01},{"t":4.2,"g":"Isl1CKO","a":0.06},{"t":4.3,"g":"Isl1CKO","a":0.07},{"t":4.4,"g":"Isl1CKO","a":0.07},{"t":4.5,"g":"Isl1CKO","a":0.07},{"t":4.6,"g":"Isl1CKO","a":0.05},{"t":4.7,"g":"Isl1CKO","a":-0.01},{"t":4.8,"g":"Isl1CKO","a":-0.05},{"t":4.9,"g":"Isl1CKO","a":-0.065},{"t":5.0,"g":"Isl1CKO","a":-0.05},{"t":5.1,"g":"Isl1CKO","a":-0.08},{"t":5.2,"g":"Isl1CKO","a":-0.15},{"t":5.25,"g":"Isl1CKO","a":-0.16},{"t":5.3,"g":"Isl1CKO","a":-0.12},{"t":5.4,"g":"Isl1CKO","a":0.05},{"t":5.5,"g":"Isl1CKO","a":0.07},{"t":5.6,"g":"Isl1CKO","a":0.06},{"t":5.7,"g":"Isl1CKO","a":0.13},{"t":5.8,"g":"Isl1CKO","a":0.2},{"t":5.9,"g":"Isl1CKO","a":0.17},{"t":6.0,"g":"Isl1CKO","a":0.13},{"t":6.1,"g":"Isl1CKO","a":0.1},{"t":6.2,"g":"Isl1CKO","a":0.07},{"t":6.3,"g":"Isl1CKO","a":0.03},{"t":6.4,"g":"Isl1CKO","a":-0.02},{"t":6.5,"g":"Isl1CKO","a":-0.05},{"t":6.6,"g":"Isl1CKO","a":-0.09},{"t":6.7,"g":"Isl1CKO","a":-0.08},{"t":6.8,"g":"Isl1CKO","a":-0.065},{"t":6.9,"g":"Isl1CKO","a":-0.04},{"t":7.0,"g":"Isl1CKO","a":-0.01},{"t":7.2,"g":"Isl1CKO","a":0.07},{"t":7.4,"g":"Isl1CKO","a":0.07},{"t":7.5,"g":"Isl1CKO","a":0.08},{"t":7.6,"g":"Isl1CKO","a":0.03},{"t":7.7,"g":"Isl1CKO","a":-0.02},{"t":7.9,"g":"Isl1CKO","a":-0.01},{"t":8.0,"g":"Isl1CKO","a":0.0},{"t":8.1,"g":"Isl1CKO","a":-0.01},{"t":8.2,"g":"Isl1CKO","a":0.03},{"t":8.3,"g":"Isl1CKO","a":0.01},{"t":8.4,"g":"Isl1CKO","a":-0.04},{"t":8.6,"g":"Isl1CKO","a":-0.04},{"t":8.8,"g":"Isl1CKO","a":-0.01},{"t":8.9,"g":"Isl1CKO","a":-0.02},{"t":9.0,"g":"Isl1CKO","a":0.03},{"t":9.1,"g":"Isl1CKO","a":0.11},{"t":9.2,"g":"Isl1CKO","a":0.11},{"t":9.3,"g":"Isl1CKO","a":0.07},{"t":9.5,"g":"Isl1CKO","a":0.02},{"t":9.6,"g":"Isl1CKO","a":-0.04},{"t":9.8,"g":"Isl1CKO","a":-0.03},{"t":10,"g":"Isl1CKO","a":-0.05}
 ],
 "gLab": [
  {"t":2.15,"a":0.92,"g":"Control","l":"I"},{"t":2.9,"a":0.71,"g":"Control","l":"II"},{"t":3.6,"a":0.92,"g":"Control","l":"III"},{"t":4.55,"a":0.43,"g":"Control","l":"IV"},
  {"t":2.5,"a":0.27,"g":"Isl1CKO","l":"I"},{"t":3.1,"a":0.27,"g":"Isl1CKO","l":"II"},{"t":3.95,"a":0.19,"g":"Isl1CKO","l":"III"},{"t":4.5,"a":-0.085,"g":"Isl1CKO","l":"IV"}
 ],
 "dBars": [
  {"w":1,"g":"Control","m":4.6,"lo":4.2,"hi":5.12},{"w":1,"g":"Isl1CKO","m":1.3,"lo":1.04,"hi":1.62},{"w":2,"g":"Control","m":4.15,"lo":3.65,"hi":4.73},{"w":2,"g":"Isl1CKO","m":1.43,"lo":1.22,"hi":1.66},{"w":3,"g":"Control","m":8.1,"lo":7.48,"hi":8.82},{"w":3,"g":"Isl1CKO","m":2.35,"lo":1.85,"hi":2.93},{"w":4,"g":"Control","m":5.2,"lo":4.78,"hi":5.65},{"w":4,"g":"Isl1CKO","m":1.68,"lo":1.45,"hi":1.96}
 ],
 "dDots": [
  {"w":1,"g":"Control","s":6,"v":7.73},{"w":1,"g":"Control","s":4,"v":6.35},{"w":1,"g":"Control","s":8,"v":5.5},{"w":1,"g":"Control","s":2,"v":5.4},{"w":1,"g":"Control","s":10,"v":4.9},{"w":1,"g":"Control","s":5,"v":4.35},{"w":1,"g":"Control","s":7,"v":4.0},{"w":1,"g":"Control","s":1,"v":3.9},{"w":1,"g":"Control","s":11,"v":3.85},{"w":1,"g":"Control","s":3,"v":3.8},{"w":1,"g":"Control","s":9,"v":2.24},
  {"w":1,"g":"Isl1CKO","s":5,"v":2.35},{"w":1,"g":"Isl1CKO","s":3,"v":2.08},{"w":1,"g":"Isl1CKO","s":8,"v":2.0},{"w":1,"g":"Isl1CKO","s":1,"v":1.8},{"w":1,"g":"Isl1CKO","s":10,"v":1.5},{"w":1,"g":"Isl1CKO","s":6,"v":1.27},{"w":1,"g":"Isl1CKO","s":2,"v":1.1},{"w":1,"g":"Isl1CKO","s":9,"v":0.7},{"w":1,"g":"Isl1CKO","s":4,"v":0.18},{"w":1,"g":"Isl1CKO","s":7,"v":0.18},
  {"w":2,"g":"Control","s":6,"v":8.08},{"w":2,"g":"Control","s":4,"v":5.84},{"w":2,"g":"Control","s":8,"v":5.08},{"w":2,"g":"Control","s":2,"v":4.43},{"w":2,"g":"Control","s":10,"v":4.2},{"w":2,"g":"Control","s":5,"v":3.88},{"w":2,"g":"Control","s":7,"v":3.74},{"w":2,"g":"Control","s":1,"v":3.35},{"w":2,"g":"Control","s":11,"v":3.23},{"w":2,"g":"Control","s":3,"v":2.4},{"w":2,"g":"Control","s":9,"v":1.8},
  {"w":2,"g":"Isl1CKO","s":5,"v":2.42},{"w":2,"g":"Isl1CKO","s":3,"v":2.19},{"w":2,"g":"Isl1CKO","s":8,"v":2.08},{"w":2,"g":"Isl1CKO","s":1,"v":1.66},{"w":2,"g":"Isl1CKO","s":10,"v":1.43},{"w":2,"g":"Isl1CKO","s":6,"v":1.27},{"w":2,"g":"Isl1CKO","s":2,"v":1.22},{"w":2,"g":"Isl1CKO","s":9,"v":1.2},{"w":2,"g":"Isl1CKO","s":4,"v":1.15},{"w":2,"g":"Isl1CKO","s":7,"v":0.5},
  {"w":3,"g":"Control","s":6,"v":12.65},{"w":3,"g":"Control","s":4,"v":10.57},{"w":3,"g":"Control","s":8,"v":9.97},{"w":3,"g":"Control","s":2,"v":8.77},{"w":3,"g":"Control","s":10,"v":8.77},{"w":3,"g":"Control","s":5,"v":7.2},{"w":3,"g":"Control","s":7,"v":6.92},{"w":3,"g":"Control","s":1,"v":6.46},{"w":3,"g":"Control","s":11,"v":6.23},{"w":3,"g":"Control","s":3,"v":5.58},{"w":3,"g":"Control","s":9,"v":5.35},
  {"w":3,"g":"Isl1CKO","s":5,"v":6.5},{"w":3,"g":"Isl1CKO","s":3,"v":3.35},{"w":3,"g":"Isl1CKO","s":8,"v":3.0},{"w":3,"g":"Isl1CKO","s":1,"v":2.3},{"w":3,"g":"Isl1CKO","s":10,"v":1.96},{"w":3,"g":"Isl1CKO","s":6,"v":1.66},{"w":3,"g":"Isl1CKO","s":2,"v":1.5},{"w":3,"g":"Isl1CKO","s":9,"v":1.15},{"w":3,"g":"Isl1CKO","s":4,"v":0.7},{"w":3,"g":"Isl1CKO","s":7,"v":0.65},
  {"w":4,"g":"Control","s":6,"v":7.66},{"w":4,"g":"Control","s":4,"v":7.1},{"w":4,"g":"Control","s":8,"v":6.92},{"w":4,"g":"Control","s":2,"v":5.2},{"w":4,"g":"Control","s":10,"v":4.96},{"w":4,"g":"Control","s":5,"v":4.6},{"w":4,"g":"Control","s":7,"v":4.4},{"w":4,"g":"Control","s":1,"v":4.15},{"w":4,"g":"Control","s":11,"v":4.1},{"w":4,"g":"Control","s":3,"v":4.0},{"w":4,"g":"Control","s":9,"v":3.9},
  {"w":4,"g":"Isl1CKO","s":5,"v":3.47},{"w":4,"g":"Isl1CKO","s":3,"v":2.08},{"w":4,"g":"Isl1CKO","s":8,"v":1.73},{"w":4,"g":"Isl1CKO","s":1,"v":1.66},{"w":4,"g":"Isl1CKO","s":10,"v":1.66},{"w":4,"g":"Isl1CKO","s":6,"v":1.57},{"w":4,"g":"Isl1CKO","s":2,"v":1.27},{"w":4,"g":"Isl1CKO","s":9,"v":1.15},{"w":4,"g":"Isl1CKO","s":4,"v":1.04},{"w":4,"g":"Isl1CKO","s":7,"v":0.74}
 ],
 "dStars": [{"w":1,"y":8.15,"s":"****"},{"w":2,"y":8.82,"s":"***"},{"w":3,"y":12.76,"s":"****"},{"w":4,"y":8.93,"s":"****"}],
 "fBars": [
  {"w":1,"g":"Control","m":0.76,"lo":0.64,"hi":0.89},{"w":1,"g":"Isl1CKO","m":0.56,"lo":0.44,"hi":0.71},{"w":2,"g":"Control","m":0.81,"lo":0.72,"hi":0.9},{"w":2,"g":"Isl1CKO","m":0.55,"lo":0.44,"hi":0.67},{"w":3,"g":"Control","m":1.63,"lo":1.29,"hi":1.97},{"w":3,"g":"Isl1CKO","m":0.6,"lo":0.44,"hi":0.76},{"w":4,"g":"Control","m":1.56,"lo":1.2,"hi":1.94},{"w":4,"g":"Isl1CKO","m":0.87,"lo":0.66,"hi":1.09},{"w":5,"g":"Control","m":1.07,"lo":0.96,"hi":1.17},{"w":5,"g":"Isl1CKO","m":1.12,"lo":0.91,"hi":1.33}
 ],
 "fDots": [
  {"w":1,"g":"Control","s":4,"v":1.13},{"w":1,"g":"Control","s":2,"v":1.07},{"w":1,"g":"Control","s":6,"v":0.99},{"w":1,"g":"Control","s":1,"v":0.84},{"w":1,"g":"Control","s":7,"v":0.63},{"w":1,"g":"Control","s":3,"v":0.4},{"w":1,"g":"Control","s":5,"v":0.36},
  {"w":1,"g":"Isl1CKO","s":4,"v":1.24},{"w":1,"g":"Isl1CKO","s":2,"v":0.69},{"w":1,"g":"Isl1CKO","s":6,"v":0.67},{"w":1,"g":"Isl1CKO","s":1,"v":0.45},{"w":1,"g":"Isl1CKO","s":7,"v":0.44},{"w":1,"g":"Isl1CKO","s":3,"v":0.23},{"w":1,"g":"Isl1CKO","s":5,"v":0.23},
  {"w":2,"g":"Control","s":4,"v":1.07},{"w":2,"g":"Control","s":2,"v":1.07},{"w":2,"g":"Control","s":6,"v":0.9},{"w":2,"g":"Control","s":1,"v":0.78},{"w":2,"g":"Control","s":7,"v":0.75},{"w":2,"g":"Control","s":3,"v":0.73},{"w":2,"g":"Control","s":5,"v":0.48},
  {"w":2,"g":"Isl1CKO","s":4,"v":0.98},{"w":2,"g":"Isl1CKO","s":2,"v":0.81},{"w":2,"g":"Isl1CKO","s":6,"v":0.73},{"w":2,"g":"Isl1CKO","s":1,"v":0.56},{"w":2,"g":"Isl1CKO","s":7,"v":0.44},{"w":2,"g":"Isl1CKO","s":3,"v":0.21},{"w":2,"g":"Isl1CKO","s":5,"v":0.13},
  {"w":3,"g":"Control","s":4,"v":3.4},{"w":3,"g":"Control","s":2,"v":1.75},{"w":3,"g":"Control","s":6,"v":1.7},{"w":3,"g":"Control","s":1,"v":1.65},{"w":3,"g":"Control","s":7,"v":1.33},{"w":3,"g":"Control","s":3,"v":0.98},{"w":3,"g":"Control","s":5,"v":0.6},
  {"w":3,"g":"Isl1CKO","s":4,"v":1.36},{"w":3,"g":"Isl1CKO","s":2,"v":0.76},{"w":3,"g":"Isl1CKO","s":6,"v":0.73},{"w":3,"g":"Isl1CKO","s":1,"v":0.58},{"w":3,"g":"Isl1CKO","s":7,"v":0.41},{"w":3,"g":"Isl1CKO","s":3,"v":0.21},{"w":3,"g":"Isl1CKO","s":5,"v":0.1},
  {"w":4,"g":"Control","s":4,"v":3.51},{"w":4,"g":"Control","s":2,"v":1.91},{"w":4,"g":"Control","s":6,"v":1.6},{"w":4,"g":"Control","s":1,"v":1.45},{"w":4,"g":"Control","s":7,"v":1.02},{"w":4,"g":"Control","s":3,"v":0.85},{"w":4,"g":"Control","s":5,"v":0.67},
  {"w":4,"g":"Isl1CKO","s":4,"v":1.74},{"w":4,"g":"Isl1CKO","s":2,"v":1.4},{"w":4,"g":"Isl1CKO","s":6,"v":1.07},{"w":4,"g":"Isl1CKO","s":1,"v":0.77},{"w":4,"g":"Isl1CKO","s":7,"v":0.63},{"w":4,"g":"Isl1CKO","s":3,"v":0.36},{"w":4,"g":"Isl1CKO","s":5,"v":0.29},
  {"w":5,"g":"Control","s":4,"v":1.36},{"w":5,"g":"Control","s":2,"v":1.35},{"w":5,"g":"Control","s":6,"v":1.21},{"w":5,"g":"Control","s":1,"v":1.07},{"w":5,"g":"Control","s":7,"v":0.95},{"w":5,"g":"Control","s":3,"v":0.81},{"w":5,"g":"Control","s":5,"v":0.72},
  {"w":5,"g":"Isl1CKO","s":4,"v":2.19},{"w":5,"g":"Isl1CKO","s":2,"v":1.27},{"w":5,"g":"Isl1CKO","s":6,"v":1.15},{"w":5,"g":"Isl1CKO","s":1,"v":1.07},{"w":5,"g":"Isl1CKO","s":7,"v":0.9},{"w":5,"g":"Isl1CKO","s":3,"v":0.84},{"w":5,"g":"Isl1CKO","s":5,"v":0.35}
 ],
 "fStars": [{"w":3,"y":3.66,"s":"**"}],
 "hBars": [
  {"w":1,"g":"Control","m":1.5,"lo":1.36,"hi":1.63},{"w":1,"g":"Isl1CKO","m":0.31,"lo":0.25,"hi":0.37},{"w":2,"g":"Control","m":2.02,"lo":1.85,"hi":2.22},{"w":2,"g":"Isl1CKO","m":0.33,"lo":0.26,"hi":0.4},{"w":3,"g":"Control","m":2.36,"lo":1.94,"hi":2.78},{"w":3,"g":"Isl1CKO","m":0.65,"lo":0.44,"hi":0.87},{"w":4,"g":"Control","m":1.73,"lo":1.44,"hi":2.02},{"w":4,"g":"Isl1CKO","m":0.97,"lo":0.83,"hi":1.13}
 ],
 "hDots": [
  {"w":1,"g":"Control","s":4,"v":1.78},{"w":1,"g":"Control","s":2,"v":1.69},{"w":1,"g":"Control","s":6,"v":1.68},{"w":1,"g":"Control","s":1,"v":1.66},{"w":1,"g":"Control","s":7,"v":1.65},{"w":1,"g":"Control","s":3,"v":1.63},{"w":1,"g":"Control","s":5,"v":0.52},
  {"w":1,"g":"Isl1CKO","s":4,"v":0.54},{"w":1,"g":"Isl1CKO","s":6,"v":0.5},{"w":1,"g":"Isl1CKO","s":2,"v":0.49},{"w":1,"g":"Isl1CKO","s":8,"v":0.35},{"w":1,"g":"Isl1CKO","s":1,"v":0.27},{"w":1,"g":"Isl1CKO","s":5,"v":0.23},{"w":1,"g":"Isl1CKO","s":3,"v":0.19},{"w":1,"g":"Isl1CKO","s":7,"v":0.12},
  {"w":2,"g":"Control","s":4,"v":2.94},{"w":2,"g":"Control","s":2,"v":2.43},{"w":2,"g":"Control","s":6,"v":2.25},{"w":2,"g":"Control","s":1,"v":2.14},{"w":2,"g":"Control","s":7,"v":1.77},{"w":2,"g":"Control","s":3,"v":1.75},{"w":2,"g":"Control","s":5,"v":1.42},
  {"w":2,"g":"Isl1CKO","s":4,"v":0.75},{"w":2,"g":"Isl1CKO","s":6,"v":0.43},{"w":2,"g":"Isl1CKO","s":2,"v":0.41},{"w":2,"g":"Isl1CKO","s":8,"v":0.27},{"w":2,"g":"Isl1CKO","s":1,"v":0.27},{"w":2,"g":"Isl1CKO","s":5,"v":0.27},{"w":2,"g":"Isl1CKO","s":3,"v":0.23},{"w":2,"g":"Isl1CKO","s":7,"v":0.12},
  {"w":3,"g":"Control","s":4,"v":4.7},{"w":3,"g":"Control","s":2,"v":2.9},{"w":3,"g":"Control","s":6,"v":2.57},{"w":3,"g":"Control","s":1,"v":2.55},{"w":3,"g":"Control","s":7,"v":1.28},{"w":3,"g":"Control","s":3,"v":1.27},{"w":3,"g":"Control","s":5,"v":1.07},
  {"w":3,"g":"Isl1CKO","s":4,"v":1.77},{"w":3,"g":"Isl1CKO","s":6,"v":1.24},{"w":3,"g":"Isl1CKO","s":2,"v":0.83},{"w":3,"g":"Isl1CKO","s":8,"v":0.54},{"w":3,"g":"Isl1CKO","s":1,"v":0.27},{"w":3,"g":"Isl1CKO","s":5,"v":0.16},{"w":3,"g":"Isl1CKO","s":3,"v":0.14},{"w":3,"g":"Isl1CKO","s":7,"v":0.13},
  {"w":4,"g":"Control","s":4,"v":3.63},{"w":4,"g":"Control","s":2,"v":2.1},{"w":4,"g":"Control","s":6,"v":1.63},{"w":4,"g":"Control","s":1,"v":1.4},{"w":4,"g":"Control","s":7,"v":1.27},{"w":4,"g":"Control","s":3,"v":1.27},{"w":4,"g":"Control","s":5,"v":1.27},
  {"w":4,"g":"Isl1CKO","s":4,"v":1.53},{"w":4,"g":"Isl1CKO","s":6,"v":1.3},{"w":4,"g":"Isl1CKO","s":2,"v":1.28},{"w":4,"g":"Isl1CKO","s":8,"v":1.14},{"w":4,"g":"Isl1CKO","s":1,"v":0.93},{"w":4,"g":"Isl1CKO","s":5,"v":0.75},{"w":4,"g":"Isl1CKO","s":3,"v":0.7},{"w":4,"g":"Isl1CKO","s":7,"v":0.25}
 ],
 "hStars": [{"w":1,"y":2.37,"s":"**"},{"w":2,"y":3.17,"s":"****"},{"w":3,"y":3.73,"s":"****"}]
},
"spacing": -5,
"resolve": {"scale": {"color": "independent", "shape": "independent"}, "legend": {"color": "independent", "shape": "independent"}},
"vconcat": [
 {"hconcat": [
  {"title": {"text": "A", "offset": -28, "dx": -7},
   "width": 320, "height": 213,
   "layer": [
    {"data": {"name": "dpoae"}, "mark": {"type": "line", "strokeWidth": 1.5},
     "encoding": {
      "x": {"field": "f", "type": "quantitative", "scale": {"type": "log", "domain": [5, 50], "nice": false}, "axis": {"orient": "bottom", "values": [8, 16, 32], "title": "f2 frequency (kHz)"}},
      "y": {"field": "m", "type": "quantitative", "scale": {"domain": [-10, 40], "nice": false, "zero": false}, "axis": {"values": [-10, 0, 10, 20, 30, 40], "title": "DPOAE amplitude (dB)", "labelOverlap": false, "labelExpr": "replace(datum.label, '\u2212', '-')"}},
      "color": {"field": "g", "type": "nominal", "scale": {"domain": ["Control", "Isl1CKO"], "range": ["#000000", "#ff0000"]},
       "legend": {"orient": "none", "legendX": 182, "legendY": 127, "symbolSize": 400, "clipHeight": 16, "labelExpr": "datum.label == 'Control' ? 'Control (n=14)' : 'Isl1CKO (n=10)'", "labelColor": {"expr": "datum.value == 'Control' ? '#000000' : '#ff0000'"}, "labelFontStyle": {"expr": "datum.value == 'Control' ? 'normal' : 'italic'"}}}}},
    {"data": {"values": [{"level": 0}]}, "mark": {"type": "rule", "strokeDash": [0.1, 9.4], "strokeWidth": 2.4, "strokeCap": "round", "color": "#000"}, "encoding": {"y": {"field": "level", "type": "quantitative"}}},
    {"data": {"name": "dpoae"}, "mark": {"type": "rule", "strokeWidth": 1.5}, "encoding": {"x": {"field": "f", "type": "quantitative", "axis": null}, "y": {"field": "lo", "type": "quantitative"}, "y2": {"field": "hi"}, "color": {"field": "g", "type": "nominal", "legend": null}}},
    {"data": {"name": "dpoae"}, "mark": {"type": "tick", "orient": "horizontal", "size": 8, "thickness": 1.5}, "encoding": {"x": {"field": "f", "type": "quantitative", "axis": null}, "y": {"field": "lo", "type": "quantitative"}, "color": {"field": "g", "type": "nominal", "legend": null}}},
    {"data": {"name": "dpoae"}, "mark": {"type": "tick", "orient": "horizontal", "size": 8, "thickness": 1.5}, "encoding": {"x": {"field": "f", "type": "quantitative", "axis": null}, "y": {"field": "hi", "type": "quantitative"}, "color": {"field": "g", "type": "nominal", "legend": null}}},
    {"data": {"name": "dpoae"}, "transform": [{"filter": "datum.g == 'Control'"}], "mark": {"type": "point", "shape": "circle", "filled": true, "opacity": 1, "size": 45, "color": "#000000"},
     "encoding": {"x": {"field": "f", "type": "quantitative", "axis": null}, "y": {"field": "m", "type": "quantitative"}}},
    {"data": {"name": "dpoae"}, "transform": [{"filter": "datum.g == 'Isl1CKO'"}], "mark": {"type": "point", "shape": "square", "filled": true, "opacity": 1, "size": 50, "color": "#ff0000"},
     "encoding": {"x": {"field": "f", "type": "quantitative", "axis": null}, "y": {"field": "m", "type": "quantitative"}}},
    {"data": {"name": "aStars"}, "mark": {"type": "text", "fontSize": 11, "dy": 3, "color": "#000"},
     "encoding": {"x": {"field": "f", "type": "quantitative", "axis": {"orient": "top", "title": "DPOAE", "labels": false, "ticks": false, "domain": false, "titleFontSize": 16.5, "titlePadding": 10, "titleX": 140}}, "y": {"field": "y", "type": "quantitative"}, "text": {"field": "s"}}},
    {"data": {"values": [{"f": 40.5, "y1": 2.4, "y2": 11.4}]}, "mark": {"type": "rule", "strokeWidth": 2, "color": "#000"}, "encoding": {"x": {"field": "f", "type": "quantitative", "axis": null}, "y": {"field": "y1", "type": "quantitative"}, "y2": {"field": "y2"}}},
    {"data": {"values": [{"f": 42.7, "y": 7.0, "s": "****"}]}, "mark": {"type": "text", "angle": 90, "fontSize": 8, "color": "#000"}, "encoding": {"x": {"field": "f", "type": "quantitative", "axis": null}, "y": {"field": "y", "type": "quantitative"}, "text": {"field": "s"}}},
    {"data": {"values": [{"f": 39.9, "y": -2.0, "s": "noise"}]}, "mark": {"type": "text", "fontSize": 11.5, "color": "#000"}, "encoding": {"x": {"field": "f", "type": "quantitative", "axis": null}, "y": {"field": "y", "type": "quantitative"}, "text": {"field": "s"}}}
   ],
   "resolve": {"axis": {"x": "independent"}}
  },
  {"title": {"text": "B", "offset": -25, "dx": -6},
   "width": 312, "height": 213,
   "layer": [
    {"data": {"name": "abr"}, "transform": [{"filter": "datum.f < 50"}], "mark": {"type": "line", "strokeWidth": 1.4},
     "encoding": {
      "x": {"field": "f", "type": "quantitative", "scale": {"type": "log", "domain": [1, 64], "nice": false}, "axis": {"orient": "bottom", "values": [2, 4, 8, 16, 32, 59], "labelExpr": "datum.value > 50 ? 'click' : datum.label", "title": "Frequency (kHz)"}},
      "y": {"field": "m", "type": "quantitative", "scale": {"domain": [0, 80], "nice": false, "range": [213, 5]}, "axis": {"values": [0, 20, 40, 60, 80], "title": "Sound level (dB SPL)", "labelOverlap": false}},
      "color": {"field": "g", "type": "nominal", "scale": {"domain": ["Control", "Isl1CKO"], "range": ["#000000", "#ff0000"]},
       "legend": {"orient": "none", "legendX": 186, "legendY": -2, "symbolSize": 361, "clipHeight": 15, "labelFontSize": 11.5, "labelOffset": 4, "labelExpr": "datum.label == 'Control' ? 'Control (n=10)' : 'Isl1CKO (n=7)'", "labelColor": {"expr": "datum.value == 'Control' ? '#000000' : '#ff0000'"}, "labelFontStyle": {"expr": "datum.value == 'Control' ? 'normal' : 'italic'"}}}}},
    {"data": {"name": "abr"}, "mark": {"type": "rule", "strokeWidth": 1.2}, "encoding": {"x": {"field": "f", "type": "quantitative", "axis": null}, "y": {"field": "lo", "type": "quantitative"}, "y2": {"field": "hi"}, "color": {"field": "g", "type": "nominal", "legend": null}}},
    {"data": {"name": "abr"}, "mark": {"type": "tick", "orient": "horizontal", "size": 6, "thickness": 1.2}, "encoding": {"x": {"field": "f", "type": "quantitative", "axis": null}, "y": {"field": "lo", "type": "quantitative"}, "color": {"field": "g", "type": "nominal", "legend": null}}},
    {"data": {"name": "abr"}, "mark": {"type": "tick", "orient": "horizontal", "size": 6, "thickness": 1.2}, "encoding": {"x": {"field": "f", "type": "quantitative", "axis": null}, "y": {"field": "hi", "type": "quantitative"}, "color": {"field": "g", "type": "nominal", "legend": null}}},
    {"data": {"name": "abr"}, "transform": [{"filter": "datum.g == 'Control'"}], "mark": {"type": "point", "shape": "circle", "filled": true, "opacity": 1, "size": 22, "color": "#000000"},
     "encoding": {"x": {"field": "f", "type": "quantitative", "axis": null}, "y": {"field": "m", "type": "quantitative"}}},
    {"data": {"name": "abr"}, "transform": [{"filter": "datum.g == 'Isl1CKO'"}], "mark": {"type": "point", "shape": "square", "filled": true, "opacity": 1, "size": 26, "color": "#ff0000"},
     "encoding": {"x": {"field": "f", "type": "quantitative", "axis": null}, "y": {"field": "m", "type": "quantitative"}}},
    {"data": {"name": "bStars"}, "mark": {"type": "text", "fontSize": 11, "dy": 3, "color": "#000"},
     "encoding": {"x": {"field": "f", "type": "quantitative", "axis": {"orient": "top", "title": "ABR thresholds", "labels": false, "ticks": false, "domain": false, "titleFontSize": 16.5, "titlePadding": 12, "titleX": 146}}, "y": {"field": "y", "type": "quantitative"}, "text": {"field": "s"}}},
    {"data": {"values": [{"f": 45.9, "y1": 65.1, "y2": 83.8}]}, "mark": {"type": "rule", "strokeWidth": 2, "color": "#000"}, "encoding": {"x": {"field": "f", "type": "quantitative", "axis": null}, "y": {"field": "y1", "type": "quantitative"}, "y2": {"field": "y2"}}},
    {"data": {"values": [{"f": 51.7, "y": 77.7, "s": "****"}]}, "mark": {"type": "text", "angle": 90, "fontSize": 8, "color": "#000"}, "encoding": {"x": {"field": "f", "type": "quantitative", "axis": null}, "y": {"field": "y", "type": "quantitative"}, "text": {"field": "s"}}}
   ],
   "resolve": {"axis": {"x": "independent"}}
  }
 ], "spacing": 49, "resolve": {"scale": {"color": "independent", "shape": "independent"}, "legend": {"color": "independent", "shape": "independent"}}},
 {"spacing": -9, "resolve": {"scale": {"color": "independent", "shape": "independent"}, "legend": {"color": "independent", "shape": "independent"}},
  "vconcat": [
 {"hconcat": [
  {"title": {"text": "C", "offset": -2, "dx": -10},
   "width": 360, "height": 240,
   "layer": [
    {"data": {"name": "cCurve"}, "mark": {"type": "line", "strokeWidth": 2.6, "interpolate": "monotone"},
     "encoding": {
      "x": {"field": "t", "type": "quantitative", "scale": {"domain": [0, 10], "nice": false}, "axis": {"orient": "bottom", "values": [0,1,2,3,4,5,6,7,8,9,10], "title": "Time (ms)", "labelFontSize": 11, "titleFontSize": 15.5}},
      "y": {"field": "a", "type": "quantitative", "scale": {"domain": [-4, 4], "nice": false}, "axis": {"values": [-4,-3,-2,-1,0,1,2,3,4], "title": "Amplitude (µV)", "labelFontSize": 11, "titlePadding": 10, "labelOverlap": false, "labelSeparation": 0, "labelExpr": "replace(datum.label, '\u2212', '-')"}},
      "color": {"field": "g", "type": "nominal", "scale": {"domain": ["Control", "Isl1CKO"], "range": ["#000000", "#ff0000"]},
       "legend": {"orient": "none", "legendX": 254, "legendY": 27, "symbolSize": 625, "clipHeight": 18, "labelExpr": "datum.label == 'Control' ? 'Control (n=11)' : 'Isl1CKO (n=10)'", "labelColor": {"expr": "datum.value == 'Control' ? '#000000' : '#ff0000'"}, "labelFontStyle": {"expr": "datum.value == 'Control' ? 'normal' : 'italic'"}}}}},
    {"data": {"name": "cLab"}, "mark": {"type": "text", "fontSize": 12.5},
     "encoding": {"x": {"field": "t", "type": "quantitative", "axis": {"orient": "top", "title": "ABR click curves at 80dB SPL", "labels": false, "ticks": false, "domain": false, "titleFontSize": 16, "titlePadding": -5, "titleX": 154}}, "y": {"field": "a", "type": "quantitative", "axis": {"values": [-4,-3,-2,-1,0,1,2,3,4], "title": "Amplitude (µV)", "labelFontSize": 11, "titlePadding": 10, "labelOverlap": false, "labelSeparation": 0, "labelExpr": "replace(datum.label, '\u2212', '-')"}}, "text": {"field": "l"}, "color": {"field": "g", "type": "nominal", "legend": null}}}
   ],
   "resolve": {"axis": {"x": "independent"}}
  },
  {"title": {"text": "D", "offset": -7, "dx": -11},
   "width": 327, "height": 240,
   "layer": [
    {"data": {"name": "dBars"}, "mark": {"type": "bar", "stroke": "#1a1a1a", "strokeWidth": 1.3},
     "encoding": {
      "x": {"field": "w", "type": "ordinal", "scale": {"paddingInner": 0.148, "paddingOuter": 0.095}, "axis": {"orient": "bottom", "title": "Wave #", "labelAngle": 0, "labelFontSize": 11.5}},
      "xOffset": {"field": "g", "scale": {"paddingInner": 0.06}},
      "y": {"field": "m", "type": "quantitative", "scale": {"domain": [0, 15], "nice": false, "range": [240, 26]}, "axis": {"values": [0, 5, 10, 15], "title": "Amplitude (µV)", "labelFontSize": 11, "titlePadding": -2, "labelOverlap": false}},
      "color": {"field": "g", "type": "nominal", "scale": {"domain": ["Control", "Isl1CKO"], "range": ["#ffffff", "#fa2800"]}, "legend": null}}},
    {"data": {"name": "dBars"}, "mark": {"type": "rule", "strokeWidth": 1.5, "color": "#000"}, "encoding": {"x": {"field": "w", "type": "ordinal", "axis": null}, "xOffset": {"field": "g", "scale": {"paddingInner": 0.06}}, "y": {"field": "lo", "type": "quantitative"}, "y2": {"field": "hi"}}},
    {"data": {"name": "dBars"}, "mark": {"type": "tick", "orient": "horizontal", "size": 16, "thickness": 1.5, "color": "#000"}, "encoding": {"x": {"field": "w", "type": "ordinal", "axis": null}, "xOffset": {"field": "g", "scale": {"paddingInner": 0.06}}, "y": {"field": "lo", "type": "quantitative"}}},
    {"data": {"name": "dBars"}, "mark": {"type": "tick", "orient": "horizontal", "size": 16, "thickness": 1.5, "color": "#000"}, "encoding": {"x": {"field": "w", "type": "ordinal", "axis": null}, "xOffset": {"field": "g", "scale": {"paddingInner": 0.06}}, "y": {"field": "hi", "type": "quantitative"}}},
    {"data": {"name": "dDots"}, "transform": [{"filter": "datum.g == 'Control'"}], "mark": {"type": "circle", "size": 20, "opacity": 1, "color": "#000"}, "encoding": {"x": {"field": "w", "type": "ordinal", "axis": null}, "xOffset": {"field": "s", "type": "ordinal", "scale": {"range": [8, 27]}}, "y": {"field": "v", "type": "quantitative"}}},
    {"data": {"name": "dDots"}, "transform": [{"filter": "datum.g == 'Isl1CKO'"}], "mark": {"type": "circle", "size": 20, "opacity": 1, "color": "#000"}, "encoding": {"x": {"field": "w", "type": "ordinal", "axis": null}, "xOffset": {"field": "s", "type": "ordinal", "scale": {"range": [43, 62]}}, "y": {"field": "v", "type": "quantitative"}}},
    {"data": {"name": "dStars"}, "mark": {"type": "tick", "orient": "horizontal", "size": 37, "thickness": 1.5, "color": "#000"}, "encoding": {"x": {"field": "w", "type": "ordinal", "axis": null}, "y": {"field": "y", "type": "quantitative"}}},
    {"data": {"name": "dStars"}, "mark": {"type": "text", "fontSize": 11, "baseline": "alphabetic", "dy": -1.5, "color": "#000"},
     "encoding": {"x": {"field": "w", "type": "ordinal", "axis": {"orient": "top", "title": "ABR wave amplitudes at click 80dB SPL", "labels": false, "ticks": false, "domain": false, "titleFontSize": 16, "titlePadding": -1, "titleX": 178}}, "y": {"field": "y", "type": "quantitative"}, "text": {"field": "s"}}}
   ],
   "resolve": {"scale": {"xOffset": "independent"}, "axis": {"x": "independent"}}
  }
 ], "spacing": -2, "resolve": {"scale": {"color": "independent", "shape": "independent"}, "legend": {"color": "independent", "shape": "independent"}}},
 {"spacing": 5, "resolve": {"scale": {"color": "independent", "shape": "independent"}, "legend": {"color": "independent", "shape": "independent"}},
  "vconcat": [
 {"hconcat": [
  {"title": {"text": "E", "offset": -7, "dx": -4},
   "width": 360, "height": 241,
   "layer": [
    {"data": {"name": "eCurve"}, "mark": {"type": "line", "strokeWidth": 2.6, "interpolate": "monotone"},
     "encoding": {
      "x": {"field": "t", "type": "quantitative", "scale": {"domain": [0, 10], "nice": false}, "axis": {"orient": "bottom", "values": [0,1,2,3,4,5,6,7,8,9,10], "title": "Time (ms)", "labelFontSize": 12, "titleFontSize": 15.5}},
      "y": {"field": "a", "type": "quantitative", "scale": {"domain": [-1, 1], "nice": false}, "axis": {"values": [-1,-0.8,-0.6,-0.4,-0.2,0,0.2,0.4,0.6,0.8,1], "title": "Amplitude (µV)", "labelFontSize": 12.5, "labelOverlap": false, "labelSeparation": 0, "labelExpr": "replace(format(datum.value, '.1f'), '\u2212', '-')"}},
      "color": {"field": "g", "type": "nominal", "scale": {"domain": ["Control", "Isl1CKO"], "range": ["#000000", "#ff0000"]},
       "legend": {"orient": "none", "legendX": 252, "legendY": 20, "symbolSize": 625, "clipHeight": 15, "labelExpr": "datum.label == 'Control' ? 'Control (n=7)' : 'Isl1CKO (n=7)'", "labelColor": {"expr": "datum.value == 'Control' ? '#000000' : '#ff0000'"}, "labelFontStyle": {"expr": "datum.value == 'Control' ? 'normal' : 'italic'"}}}}},
    {"data": {"name": "eLab"}, "mark": {"type": "text", "fontSize": 12.5},
     "encoding": {"x": {"field": "t", "type": "quantitative", "axis": {"orient": "top", "title": "ABR 32 kHz curves at 90dB SPL", "labels": false, "ticks": false, "domain": false, "titleFontSize": 16, "titlePadding": -19, "titleX": 190}}, "y": {"field": "a", "type": "quantitative", "axis": {"values": [-1,-0.8,-0.6,-0.4,-0.2,0,0.2,0.4,0.6,0.8,1], "title": "Amplitude (µV)", "labelFontSize": 12.5, "labelOverlap": false, "labelSeparation": 0, "labelExpr": "replace(format(datum.value, '.1f'), '\u2212', '-')"}}, "text": {"field": "l"}, "color": {"field": "g", "type": "nominal", "legend": null}}}
   ],
   "resolve": {"axis": {"x": "independent"}}
  },
  {"title": {"text": "F", "offset": -1, "dx": -7},
   "width": 325, "height": 241,
   "layer": [
    {"data": {"name": "fBars"}, "mark": {"type": "bar", "stroke": "#1a1a1a", "strokeWidth": 1.3},
     "encoding": {
      "x": {"field": "w", "type": "ordinal", "scale": {"paddingInner": 0.154, "paddingOuter": 0.077}, "axis": {"orient": "bottom", "title": "Wave #", "labelAngle": 0, "labelFontSize": 11.5}},
      "xOffset": {"field": "g", "scale": {"paddingInner": 0.06}},
      "y": {"field": "m", "type": "quantitative", "scale": {"domain": [0, 4], "nice": false, "range": [240, 23]}, "axis": {"values": [0, 1, 2, 3, 4], "format": "d", "title": "Amplitude (µV)", "labelFontSize": 11.5, "labelOverlap": false}},
      "color": {"field": "g", "type": "nominal", "scale": {"domain": ["Control", "Isl1CKO"], "range": ["#ffffff", "#fa2800"]}, "legend": null}}},
    {"data": {"name": "fBars"}, "mark": {"type": "rule", "strokeWidth": 1.5, "color": "#000"}, "encoding": {"x": {"field": "w", "type": "ordinal", "axis": null}, "xOffset": {"field": "g", "scale": {"paddingInner": 0.06}}, "y": {"field": "lo", "type": "quantitative"}, "y2": {"field": "hi"}}},
    {"data": {"name": "fBars"}, "mark": {"type": "tick", "orient": "horizontal", "size": 14, "thickness": 1.5, "color": "#000"}, "encoding": {"x": {"field": "w", "type": "ordinal", "axis": null}, "xOffset": {"field": "g", "scale": {"paddingInner": 0.06}}, "y": {"field": "lo", "type": "quantitative"}}},
    {"data": {"name": "fBars"}, "mark": {"type": "tick", "orient": "horizontal", "size": 14, "thickness": 1.5, "color": "#000"}, "encoding": {"x": {"field": "w", "type": "ordinal", "axis": null}, "xOffset": {"field": "g", "scale": {"paddingInner": 0.06}}, "y": {"field": "hi", "type": "quantitative"}}},
    {"data": {"name": "fDots"}, "transform": [{"filter": "datum.g == 'Control'"}], "mark": {"type": "circle", "size": 20, "opacity": 1, "color": "#000"}, "encoding": {"x": {"field": "w", "type": "ordinal", "axis": null}, "xOffset": {"field": "s", "type": "ordinal", "scale": {"range": [6, 22]}}, "y": {"field": "v", "type": "quantitative"}}},
    {"data": {"name": "fDots"}, "transform": [{"filter": "datum.g == 'Isl1CKO'"}], "mark": {"type": "circle", "size": 20, "opacity": 1, "color": "#000"}, "encoding": {"x": {"field": "w", "type": "ordinal", "axis": null}, "xOffset": {"field": "s", "type": "ordinal", "scale": {"range": [34, 50]}}, "y": {"field": "v", "type": "quantitative"}}},
    {"data": {"name": "fStars"}, "mark": {"type": "tick", "orient": "horizontal", "size": 26, "thickness": 1.5, "color": "#000"}, "encoding": {"x": {"field": "w", "type": "ordinal", "axis": null}, "y": {"field": "y", "type": "quantitative"}}},
    {"data": {"name": "fStars"}, "mark": {"type": "text", "fontSize": 11, "baseline": "alphabetic", "dy": -1.5, "color": "#000"},
     "encoding": {"x": {"field": "w", "type": "ordinal", "axis": {"orient": "top", "title": "ABR wave amplitudes at 32 kHz 90dB SPL", "labels": false, "ticks": false, "domain": false, "titleFontSize": 16, "titlePadding": -18, "titleX": 172}}, "y": {"field": "y", "type": "quantitative"}, "text": {"field": "s"}}}
   ],
   "resolve": {"scale": {"xOffset": "independent"}, "axis": {"x": "independent"}}
  }
 ], "spacing": 7, "resolve": {"scale": {"color": "independent", "shape": "independent"}, "legend": {"color": "independent", "shape": "independent"}}},
 {"hconcat": [
  {"title": {"text": "G", "offset": -22, "dx": -4},
   "width": 360, "height": 241,
   "layer": [
    {"data": {"name": "gCurve"}, "mark": {"type": "line", "strokeWidth": 2.6, "interpolate": "monotone"},
     "encoding": {
      "x": {"field": "t", "type": "quantitative", "scale": {"domain": [0, 10], "nice": false}, "axis": {"orient": "bottom", "values": [0,1,2,3,4,5,6,7,8,9,10], "title": "Time (ms)", "labelFontSize": 12, "titleFontSize": 15.5}},
      "y": {"field": "a", "type": "quantitative", "scale": {"domain": [-1, 1], "nice": false}, "axis": {"values": [-1,-0.8,-0.6,-0.4,-0.2,0,0.2,0.4,0.6,0.8,1], "title": "Amplitude (µV)", "labelFontSize": 12.5, "labelOverlap": false, "labelSeparation": 0, "labelExpr": "replace(format(datum.value, '.1f'), '\u2212', '-')"}},
      "color": {"field": "g", "type": "nominal", "scale": {"domain": ["Control", "Isl1CKO"], "range": ["#000000", "#ff0000"]},
       "legend": {"orient": "none", "legendX": 265, "legendY": 31, "symbolSize": 361, "clipHeight": 16, "labelOffset": 2, "labelExpr": "datum.label == 'Control' ? 'Control (n=7)' : 'Isl1CKO (n=8)'", "labelColor": {"expr": "datum.value == 'Control' ? '#000000' : '#ff0000'"}, "labelFontStyle": {"expr": "datum.value == 'Control' ? 'normal' : 'italic'"}}}}},
    {"data": {"name": "gLab"}, "mark": {"type": "text", "fontSize": 12.5},
     "encoding": {"x": {"field": "t", "type": "quantitative", "axis": {"orient": "top", "title": "ABR 8 kHz curves at 90dB SPL", "labels": false, "ticks": false, "domain": false, "titleFontSize": 16, "titlePadding": 9, "titleX": 180}}, "y": {"field": "a", "type": "quantitative", "axis": {"values": [-1,-0.8,-0.6,-0.4,-0.2,0,0.2,0.4,0.6,0.8,1], "title": "Amplitude (µV)", "labelFontSize": 12.5, "labelOverlap": false, "labelSeparation": 0, "labelExpr": "replace(format(datum.value, '.1f'), '\u2212', '-')"}}, "text": {"field": "l"}, "color": {"field": "g", "type": "nominal", "legend": null}}}
   ],
   "resolve": {"axis": {"x": "independent"}}
  },
  {"title": {"text": "H", "offset": -26, "dx": -15},
   "width": 322, "height": 241,
   "layer": [
    {"data": {"name": "hBars"}, "mark": {"type": "bar", "stroke": "#1a1a1a", "strokeWidth": 1.3},
     "encoding": {
      "x": {"field": "w", "type": "ordinal", "scale": {"paddingInner": 0.146, "paddingOuter": 0.084}, "axis": {"orient": "bottom", "title": "Wave #", "labelAngle": 0, "labelFontSize": 11.5}},
      "xOffset": {"field": "g", "scale": {"paddingInner": 0.06}},
      "y": {"field": "m", "type": "quantitative", "scale": {"domain": [0, 5], "nice": false, "range": [240, 25]}, "axis": {"values": [0, 1, 2, 3, 4, 5], "format": "d", "title": "Amplitude (µV)", "labelFontSize": 11.5, "labelOverlap": false}},
      "color": {"field": "g", "type": "nominal", "scale": {"domain": ["Control", "Isl1CKO"], "range": ["#ffffff", "#fa2800"]}, "legend": null}}},
    {"data": {"name": "hBars"}, "mark": {"type": "rule", "strokeWidth": 1.5, "color": "#000"}, "encoding": {"x": {"field": "w", "type": "ordinal", "axis": null}, "xOffset": {"field": "g", "scale": {"paddingInner": 0.06}}, "y": {"field": "lo", "type": "quantitative"}, "y2": {"field": "hi"}}},
    {"data": {"name": "hBars"}, "mark": {"type": "tick", "orient": "horizontal", "size": 18, "thickness": 1.5, "color": "#000"}, "encoding": {"x": {"field": "w", "type": "ordinal", "axis": null}, "xOffset": {"field": "g", "scale": {"paddingInner": 0.06}}, "y": {"field": "lo", "type": "quantitative"}}},
    {"data": {"name": "hBars"}, "mark": {"type": "tick", "orient": "horizontal", "size": 18, "thickness": 1.5, "color": "#000"}, "encoding": {"x": {"field": "w", "type": "ordinal", "axis": null}, "xOffset": {"field": "g", "scale": {"paddingInner": 0.06}}, "y": {"field": "hi", "type": "quantitative"}}},
    {"data": {"name": "hDots"}, "transform": [{"filter": "datum.g == 'Control'"}], "mark": {"type": "circle", "size": 20, "opacity": 1, "color": "#000"}, "encoding": {"x": {"field": "w", "type": "ordinal", "axis": null}, "xOffset": {"field": "s", "type": "ordinal", "scale": {"range": [7, 26]}}, "y": {"field": "v", "type": "quantitative"}}},
    {"data": {"name": "hDots"}, "transform": [{"filter": "datum.g == 'Isl1CKO'"}], "mark": {"type": "circle", "size": 20, "opacity": 1, "color": "#000"}, "encoding": {"x": {"field": "w", "type": "ordinal", "axis": null}, "xOffset": {"field": "s", "type": "ordinal", "scale": {"range": [42, 62]}}, "y": {"field": "v", "type": "quantitative"}}},
    {"data": {"name": "hStars"}, "mark": {"type": "tick", "orient": "horizontal", "size": 32, "thickness": 1.5, "color": "#000"}, "encoding": {"x": {"field": "w", "type": "ordinal", "axis": null}, "y": {"field": "y", "type": "quantitative"}}},
    {"data": {"name": "hStars"}, "mark": {"type": "text", "fontSize": 11, "baseline": "alphabetic", "dy": -1.5, "color": "#000"},
     "encoding": {"x": {"field": "w", "type": "ordinal", "axis": {"orient": "top", "title": "ABR wave amplitudes at 8 kHz 90dB SPL", "labels": false, "ticks": false, "domain": false, "titleFontSize": 16, "titlePadding": 5, "titleX": 169}}, "y": {"field": "y", "type": "quantitative"}, "text": {"field": "s"}}}
   ],
   "resolve": {"scale": {"xOffset": "independent"}, "axis": {"x": "independent"}}
  }
 ], "spacing": 0, "resolve": {"scale": {"color": "independent", "shape": "independent"}, "legend": {"color": "independent", "shape": "independent"}}}
  ]}
  ]}
]
}
